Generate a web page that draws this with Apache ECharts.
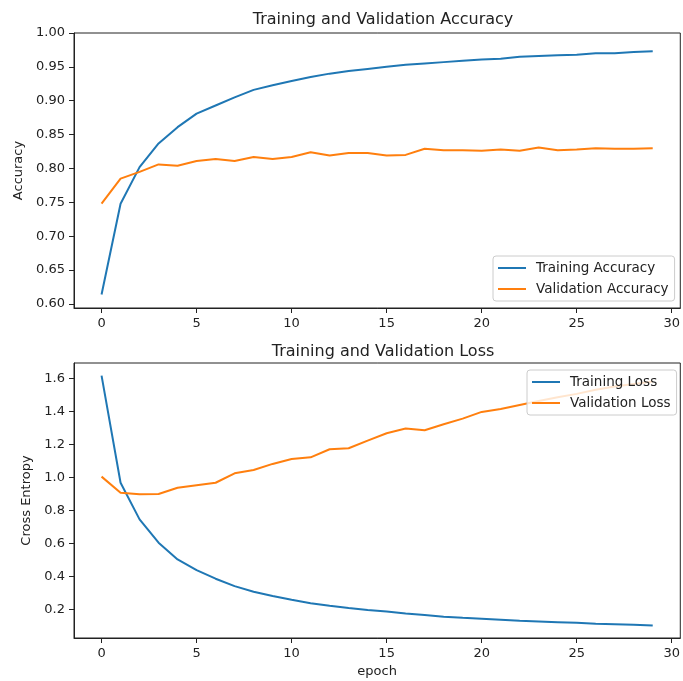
<!DOCTYPE html>
<html lang="en">
<head>
    <meta charset="UTF-8">
    <title>Training and Validation</title>
    <script src="https://cdn.jsdelivr.net/npm/echarts@6/dist/echarts.min.js"></script>
    <style>
        html, body { margin: 0; padding: 0; background: #fff; }
    </style>
</head>
<body>
    <div id="main" style="width: 683px;height: 681px;"></div>
<script>
    // epochs 0..29
    var epochs = [0, 1, 2, 3, 4, 5, 6, 7, 8, 9, 10, 11, 12, 13, 14, 15, 16, 17, 18, 19, 20, 21, 22, 23, 24, 25, 26, 27, 28, 29];

    var trainAcc = [0.614, 0.748, 0.802, 0.837, 0.861, 0.881, 0.893, 0.905, 0.916, 0.923,
                    0.929, 0.935, 0.940, 0.944, 0.947, 0.950, 0.953, 0.955, 0.957, 0.959,
                    0.961, 0.962, 0.965, 0.966, 0.967, 0.968, 0.970, 0.970, 0.972, 0.973];
    var valAcc = [0.748, 0.785, 0.795, 0.806, 0.804, 0.811, 0.814, 0.811, 0.817, 0.814,
                  0.817, 0.824, 0.819, 0.823, 0.823, 0.819, 0.820, 0.829, 0.827, 0.827,
                  0.826, 0.828, 0.826, 0.831, 0.827, 0.828, 0.830, 0.829, 0.829, 0.830];

    var trainLoss = [1.616, 0.967, 0.745, 0.604, 0.503, 0.438, 0.386, 0.341, 0.307, 0.281,
                     0.258, 0.238, 0.222, 0.208, 0.196, 0.187, 0.176, 0.166, 0.156, 0.149,
                     0.143, 0.137, 0.131, 0.127, 0.123, 0.119, 0.114, 0.111, 0.107, 0.103];
    var valLoss = [1.004, 0.907, 0.897, 0.899, 0.937, 0.952, 0.967, 1.024, 1.044, 1.081,
                   1.111, 1.121, 1.170, 1.176, 1.222, 1.267, 1.295, 1.285, 1.321, 1.355,
                   1.396, 1.414, 1.438, 1.462, 1.484, 1.505, 1.530, 1.550, 1.565, 1.580];

    var xTicks = [0, 5, 10, 15, 20, 25, 30];
    var accTicks = [0.60, 0.65, 0.70, 0.75, 0.80, 0.85, 0.90, 0.95, 1.00];
    var lossTicks = [0.2, 0.4, 0.6, 0.8, 1.0, 1.2, 1.4, 1.6];

    function pairs(ys) {
        return epochs.map(function (e, i) { return [e, ys[i]]; });
    }

    var font = "'DejaVu Sans', sans-serif";
    var ink = '#222';
    var blue = '#1f77b4';
    var orange = '#ff7f0e';

    function xAxisOf(grid, name) {
        return {
            type: 'value', gridIndex: grid, min: -1.45, max: 30.45,
            name: name, nameLocation: 'middle', nameGap: 27,
            nameTextStyle: { color: ink, fontSize: 13, fontFamily: font },
            axisLine: { onZero: false, lineStyle: { color: ink, width: 1 } },
            axisTick: { length: 5, lineStyle: { color: ink }, customValues: xTicks },
            axisLabel: { color: ink, fontSize: 13, fontFamily: font, margin: 9, customValues: xTicks },
            splitLine: { show: false }
        };
    }

    function yAxisOf(grid, name, min, max, ticks, digits, gap) {
        return {
            type: 'value', gridIndex: grid, min: min, max: max,
            name: name, nameLocation: 'middle', nameGap: gap, nameRotate: 90,
            nameTextStyle: { color: ink, fontSize: 13, fontFamily: font },
            axisLine: { show: true, onZero: false, lineStyle: { color: ink, width: 1 } },
            axisTick: { show: true, length: 5, lineStyle: { color: ink }, customValues: ticks },
            axisLabel: {
                color: ink, fontSize: 13, fontFamily: font, margin: 9, customValues: ticks,
                formatter: function (v) { return v.toFixed(digits); }
            },
            splitLine: { show: false }
        };
    }

    function legendOf(names, left, top) {
        return {
            data: names, orient: 'vertical', left: left, top: top,
            icon: 'path://M0,0 L28,0 L28,2 L0,2 Z',
            itemWidth: 28, itemHeight: 2, itemGap: 7,
            padding: [5, 6, 5, 5],
            backgroundColor: 'rgba(255,255,255,0.8)',
            borderColor: '#ccc', borderWidth: 1, borderRadius: 3,
            textStyle: { color: ink, fontSize: 13.5, fontFamily: font, padding: [0, 0, 0, 5] }
        };
    }

    function lineOf(name, color, axis, ys) {
        return {
            name: name, type: 'line', xAxisIndex: axis, yAxisIndex: axis,
            data: pairs(ys), symbol: 'none', color: color,
            lineStyle: { color: color, width: 2 }
        };
    }

    var myChart = echarts.init(document.getElementById("main"), null, { renderer: 'canvas' });

    myChart.setOption({
        animation: false,
        backgroundColor: '#fff',
        title: [
            { text: 'Training and Validation Accuracy', left: 378, top: 7, textAlign: 'center',
              textStyle: { color: ink, fontSize: 16, fontWeight: 'normal', fontFamily: font } },
            { text: 'Training and Validation Loss', left: 378, top: 339, textAlign: 'center',
              textStyle: { color: ink, fontSize: 16, fontWeight: 'normal', fontFamily: font } }
        ],
        grid: [
            { left: 74, top: 33, width: 608, height: 275, show: true, borderColor: ink, borderWidth: 1 },
            { left: 74, top: 363, width: 608, height: 275, show: true, borderColor: ink, borderWidth: 1 }
        ],
        legend: [
            legendOf(['Training Accuracy', 'Validation Accuracy'], 493, 256),
            legendOf(['Training Loss', 'Validation Loss'], 527, 370)
        ],
        xAxis: [xAxisOf(0, ''), xAxisOf(1, 'epoch')],
        yAxis: [
            yAxisOf(0, 'Accuracy', 0.594, 1.0, accTicks, 2, 47),
            yAxisOf(1, 'Cross Entropy', 0.027, 1.692, lossTicks, 1, 40)
        ],
        series: [
            lineOf('Training Accuracy', blue, 0, trainAcc),
            lineOf('Validation Accuracy', orange, 0, valAcc),
            lineOf('Training Loss', blue, 1, trainLoss),
            lineOf('Validation Loss', orange, 1, valLoss)
        ]
    });
</script>
</body>
</html>
